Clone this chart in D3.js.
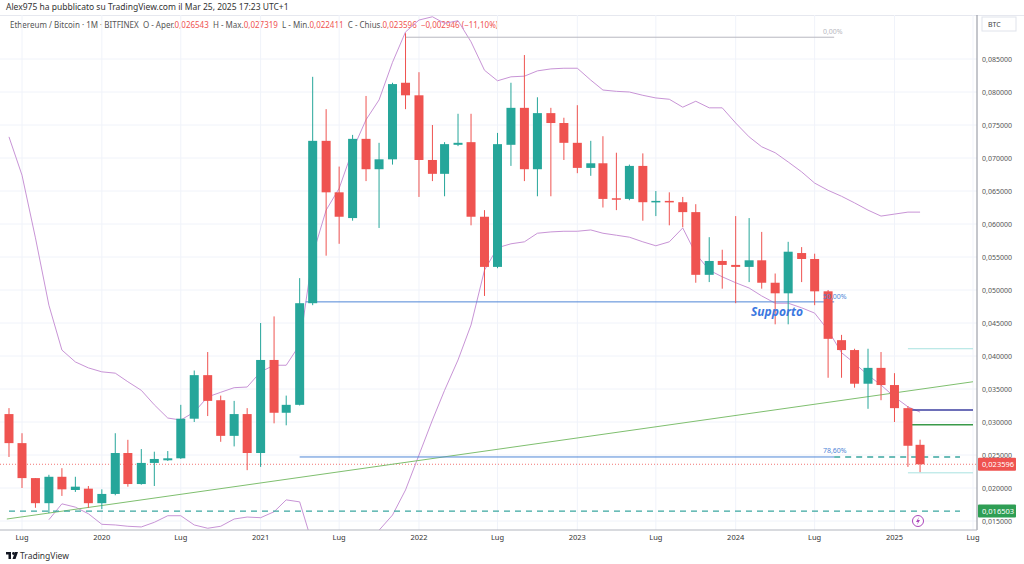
<!DOCTYPE html>
<html>
<head>
<meta charset="utf-8">
<script src="https://cdn.jsdelivr.net/npm/d3@7"></script>
<style>
  body{margin:0;background:#fff;font-family:"Noto Sans",Roboto,sans-serif;}
  svg text{font-family:"Noto Sans",Roboto,sans-serif;}
</style>
</head>
<body>
<svg id="chart" width="1024" height="564"></svg>
<script>
// monthly candles Jun 2019 .. Mar 2025
var startMonth=new Date(2019,5,1);
var opens=[.0312,.0268,.0215,.0177,.0217,.0197,.0199,.0177,.0191,.0253,.0206,.0238,.0242,.0245,.0305,.0371,.0333,.0279,.0312,.0253,
  .0394,.0314,.0326,.0480,.0726,.0648,.0609,.0729,.0683,.0698,.0814,.0795,.0697,.0676,.0720,.0724,.0611,.0535,.0720,.0776,
  .0683,.0768,.0753,.0723,.0685,.0692,.0639,.0638,.0688,.0633,.0635,.0633,.0618,.0523,.0544,.0538,.0535,.0545,.0511,.0495,
  .0556,.0547,.0498,.0424,.0409,.0358,.0382,.0356,.0321,.026543];
var highs=[.0321,.0283,.0215,.0220,.0230,.0217,.0203,.0198,.0283,.0273,.0259,.0255,.0256,.0326,.0378,.0406,.0340,.0332,.0321,.0450,
  .0460,.0340,.0518,.0823,.0774,.0687,.0735,.0794,.0723,.0814,.0889,.0830,.0750,.0724,.0767,.0767,.0621,.0738,.0814,.0856,
  .0792,.0776,.0761,.0780,.0726,.0733,.0708,.0690,.0707,.0650,.0648,.0641,.0630,.0580,.0561,.0612,.0609,.0588,.0525,.0573,
  .0565,.0555,.0500,.0432,.0411,.0411,.0406,.0374,.0324,.027319];
var lows=[.0247,.0200,.0170,.0162,.0188,.0194,.0170,.0168,.0189,.0202,.0205,.0203,.0241,.0244,.0300,.0309,.0270,.0263,.0227,.0232,
  .0298,.0295,.0325,.0477,.0552,.0570,.0605,.0665,.0594,.0690,.0774,.0641,.0665,.0642,.0718,.0598,.0491,.0533,.0688,.0665,
  .0642,.0642,.0697,.0677,.0673,.0625,.0621,.0636,.0605,.0612,.0598,.0595,.0511,.0512,.0502,.0480,.0512,.0502,.0448,.0448,
  .0512,.0477,.0367,.0367,.0352,.0320,.0333,.0300,.0232,.022411];
var closes=[.0268,.0215,.0177,.0217,.0198,.0202,.0177,.0191,.0253,.0206,.0238,.0244,.0245,.0305,.0371,.0332,.0279,.0312,.0253,.0394,
  .0314,.0326,.0480,.0726,.0648,.0611,.0729,.0683,.0698,.0812,.0795,.0697,.0676,.0721,.0723,.0611,.0535,.0721,.0776,.0683,
  .0768,.0753,.0723,.0685,.0692,.0638,.0637,.0688,.0633,.0635,.0633,.0618,.0523,.0544,.0538,.0535,.0545,.0511,.0495,.0558,
  .0547,.0498,.0426,.0409,.0358,.0382,.0356,.0321,.0264,.023596];
// bollinger bands
var bandUpper=[.0732,.0674,.0579,.0477,.0409,.0391,.0382,.0376,.0374,.0361,.0348,.0326,.0306,.0303,.0315,.0338,.0345,.0352,.0353,.0376,
  .0386,.0386,.0417,.0553,.0621,.0654,.0712,.0758,.0788,.0845,.0891,.0909,.0914,.0904,.0908,.0876,.0833,.0817,.0823,.0824,
  .0832,.0835,.0836,.0836,.0818,.0803,.0801,.0800,.0795,.0791,.0789,.0777,.0786,.0776,.0776,.0753,.0732,.0717,.0708,.0694,
  .0679,.0662,.0651,.0642,.0632,.0621,.0612,.0615,.0618,.0618];
var bandLower=[null,null,null,.0152,.0176,.0171,.0161,.0145,.0144,.0142,.0141,.0148,.0158,.0158,.0144,.0139,.0142,.0153,.0156,.0155,
  .0164,.0182,.0179,.0114,.0045,.0015,.0061,.0114,.0136,.0159,.0197,.0250,.0303,.0348,.0394,.0447,.0530,.0564,.0570,.0573,
  .0586,.0588,.0589,.0589,.0591,.0586,.0583,.0580,.0573,.0567,.0573,.0594,.0555,.0530,.0520,.0511,.0503,.0491,.0480,.0480,
  .0473,.0465,.0439,.0405,.0389,.0371,.0356,.0338,.0323,.0315];

var yTicks=[.015,.02,.025,.03,.035,.04,.045,.05,.055,.06,.065,.07,.075,.08,.085];
var xTicks=[[2019,6,'Lug'],[2020,0,'2020'],[2020,6,'Lug'],[2021,0,'2021'],[2021,6,'Lug'],[2022,0,'2022'],[2022,6,'Lug'],
  [2023,0,'2023'],[2023,6,'Lug'],[2024,0,'2024'],[2024,6,'Lug'],[2025,0,'2025'],[2025,6,'Lug']];

var trendDates=[new Date(2019,4,27),new Date(2025,6,1)];
var trendValues=[.0153,.0361];
var fibTop=.0883, fibHalf=.0482, fib786=.0247;
var lastPrice=.023596, targetLevel=.016503;
var levelNavy=.0318, levelGreen=.0296, levelCyanHi=.0411, levelCyanLo=.0223;

var months=opens.map(function(d,i){return new Date(2019,5+i,1);});
var candles=months.map(function(m,i){return {date:m,o:opens[i],h:highs[i],l:lows[i],c:closes[i]};});

var svg=d3.select('#chart');
var x=d3.scaleTime().domain([new Date(2019,6,1),new Date(2025,6,1)]).range([22,973]);
var y=d3.scaleLinear().domain([.015,.085]).range([521,59]);
var fmt=function(v){return v.toFixed(6).replace('.',',');};
var up='#26a69a', dn='#ef5350';

svg.append('defs').append('clipPath').attr('id','plot').append('rect')
  .attr('x',0).attr('y',15).attr('width',977).attr('height',515);

// header
svg.append('text').attr('x',6).attr('y',10).attr('font-size',8.5).attr('fill','#333')
  .text('Alex975 ha pubblicato su TradingView.com il Mar 25, 2025 17:23 UTC+1');
svg.append('rect').attr('x',0).attr('y',15).attr('width',1024).attr('height',0.8).attr('fill','#e0e3eb');
var hdr=svg.append('text').attr('x',10).attr('y',28).attr('font-size',8);
[['Ethereum / Bitcoin · 1M · BITFINEX  O - Aper.','#555'],['0,026543','#ef5350'],['  H - Max.','#555'],['0,027319','#ef5350'],
 ['  L - Min.','#555'],['0,022411','#ef5350'],['  C - Chius.','#555'],['0,023596','#ef5350'],['  −0,002946 (−11,10%)','#ef5350']]
 .forEach(function(p){hdr.append('tspan').attr('fill',p[1]).attr('xml:space','preserve').text(p[0]);});

// grid
var g=svg.append('g');
g.selectAll('.hg').data(yTicks).join('line').attr('x1',0).attr('x2',977)
  .attr('y1',d=>y(d)).attr('y2',d=>y(d)).attr('stroke','#f0f3fa');
g.selectAll('.vg').data(xTicks).join('line')
  .attr('x1',d=>x(new Date(d[0],d[1],1))).attr('x2',d=>x(new Date(d[0],d[1],1)))
  .attr('y1',15).attr('y2',530).attr('stroke','#f0f3fa');

var plot=svg.append('g').attr('clip-path','url(#plot)');

// current price dotted line
plot.append('line').attr('x1',0).attr('x2',977).attr('y1',y(lastPrice)).attr('y2',y(lastPrice))
  .attr('stroke','#ef5350').attr('stroke-width',0.8).attr('stroke-dasharray','1,2');

// bollinger bands
var bandLine=d3.line().defined(d=>d.v!=null).x(d=>x(d.date)).y(d=>y(d.v));
[bandUpper,bandLower].forEach(function(arr){
  plot.append('path').datum(arr.map(function(v,i){return {date:months[i],v:v};}))
    .attr('d',bandLine).attr('fill','none').attr('stroke','#c894d6').attr('stroke-width',1);
});

// trend line
plot.append('line').attr('x1',x(trendDates[0])).attr('x2',x(trendDates[1]))
  .attr('y1',y(trendValues[0])).attr('y2',y(trendValues[1])).attr('stroke','#7fbf6f').attr('stroke-width',1);

// fib levels
function hline(v,d0,d1,color,w,dash){
  return plot.append('line').attr('x1',x(d0)).attr('x2',x(d1)).attr('y1',y(v)).attr('y2',y(v))
    .attr('stroke',color).attr('stroke-width',w||1).attr('stroke-dasharray',dash||null);
}
hline(fibTop,new Date(2021,11,1),new Date(2024,7,15),'#b8b8c0',1);
hline(fibHalf,new Date(2021,3,15),new Date(2024,7,15),'#4f86d6',1);
hline(fib786,new Date(2021,3,1),new Date(2024,7,15),'#4f86d6',1);
hline(fib786,new Date(2024,7,15),new Date(2025,5,1),'#3aa7a0',1.3,'6,5');
hline(targetLevel,new Date(2019,5,1),new Date(2025,5,1),'#3aa7a0',1.3,'6,5');
hline(levelNavy,new Date(2025,1,10),new Date(2025,6,1),'#3d3fa0',1.5);
hline(levelGreen,new Date(2025,1,10),new Date(2025,6,1),'#3a9a4a',1.5);
hline(levelCyanHi,new Date(2025,1,1),new Date(2025,6,1),'#a8e2e0',1);
hline(levelCyanLo,new Date(2025,1,1),new Date(2025,6,1),'#a8e2e0',1);

svg.append('text').attr('x',x(new Date(2024,6,20))).attr('y',y(fibTop)-3).attr('font-size',7).attr('fill','#b8b8c0').text('0,00%');
svg.append('text').attr('x',x(new Date(2024,6,20))).attr('y',y(fibHalf)-3).attr('font-size',7).attr('fill','#4f86d6').text('50,00%');
svg.append('text').attr('x',x(new Date(2024,6,20))).attr('y',y(fib786)-4).attr('font-size',7).attr('fill','#4f86d6').text('78,60%');
svg.append('text').attr('x',751).attr('y',y(fibHalf)+14).attr('font-size',12).attr('font-style','italic')
  .attr('font-weight','bold').attr('fill','#3b78e0').text('Supporto');

// candles
var cw=9;
var cg=plot.selectAll('.candle').data(candles).join('g');
cg.append('line').attr('x1',d=>x(d.date)).attr('x2',d=>x(d.date)).attr('y1',d=>y(d.h)).attr('y2',d=>y(d.l))
  .attr('stroke',d=>d.c>=d.o?up:dn).attr('stroke-width',1);
cg.append('rect').attr('x',d=>x(d.date)-cw/2).attr('width',cw)
  .attr('y',d=>y(Math.max(d.o,d.c))).attr('height',d=>Math.max(1.5,Math.abs(y(d.o)-y(d.c))))
  .attr('fill',d=>d.c>=d.o?up:dn);

// lightning icon
var li=svg.append('g').attr('transform','translate(918,521)');
li.append('circle').attr('r',5.5).attr('fill','#fff').attr('stroke','#ab47bc').attr('stroke-width',1);
li.append('path').attr('d','M1,-4 L-2,1 L0,1 L-1,4 L2,-1 L0,-1 Z').attr('fill','#ab47bc');

// axes
svg.append('line').attr('x1',977).attr('x2',977).attr('y1',15).attr('y2',530).attr('stroke','#8a8e99');
svg.append('line').attr('x1',0).attr('x2',977).attr('y1',530).attr('y2',530).attr('stroke','#b2b5be');
svg.append('rect').attr('x',982).attr('y',17).attr('width',34).attr('height',14).attr('fill','#fff').attr('stroke','#e0e3eb');
svg.append('text').attr('x',988).attr('y',27).attr('font-size',7).attr('fill','#444').text('BTC');
svg.selectAll('.yl').data(yTicks).join('text').attr('x',982).attr('y',d=>y(d)+3)
  .attr('font-size',7).attr('fill','#555').text(fmt);
svg.selectAll('.xl').data(xTicks).join('text').attr('x',d=>x(new Date(d[0],d[1],1))).attr('y',540)
  .attr('text-anchor','middle').attr('font-size',7.5).attr('fill','#333').text(d=>d[2]);

// price labels
function priceTag(v,color){
  svg.append('rect').attr('x',978).attr('y',y(v)-6.5).attr('width',38).attr('height',13).attr('rx',1).attr('fill',color);
  svg.append('text').attr('x',982).attr('y',y(v)+3).attr('font-size',7.5).attr('fill','#fff').text(fmt(v));
}
priceTag(lastPrice,'#ef5350');
priceTag(targetLevel,'#2e9e54');

// logo
var lg=svg.append('g').attr('transform','translate(6,552)');
lg.append('rect').attr('x',0).attr('y',0).attr('width',5).attr('height',2.5).attr('fill','#131722');
lg.append('rect').attr('x',2.5).attr('y',0).attr('width',2.5).attr('height',7).attr('fill','#131722');
lg.append('circle').attr('cx',7.5).attr('cy',1.5).attr('r',1.4).attr('fill','#131722');
lg.append('path').attr('d','M9,0 L12,0 L9.5,7 L6.5,7 Z').attr('fill','#131722');
svg.append('text').attr('x',20).attr('y',559).attr('font-size',8.5).attr('fill','#333').text('TradingView');
</script>
</body>
</html>
